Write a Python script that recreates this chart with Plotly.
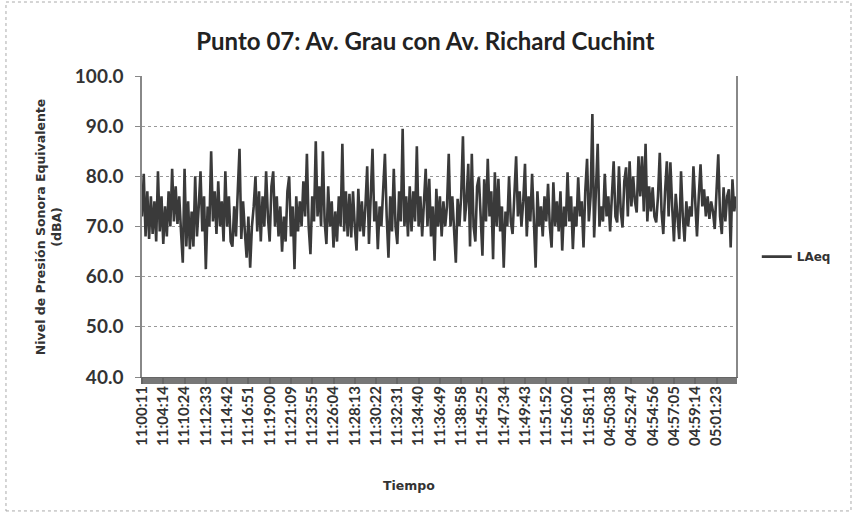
import plotly.graph_objects as go

# LAeq readings (dBA), one value every ~10.75 s
laeq = [
    72, 80.5, 68, 77, 67.5, 76, 68.5, 75, 67, 81, 69, 76, 66.5, 74, 68, 77, 70, 81.5, 71, 78,
    70.5, 76, 69, 62.8, 81.5, 66, 75, 65.5, 73, 66, 80, 68, 74, 81, 69, 76, 61.5, 74, 70, 85,
    71, 77, 68.5, 79, 70, 75, 67, 81, 70, 76, 67, 66, 74, 68, 77, 85.5, 67.5, 75, 69, 63.8,
    72, 61.8, 70, 74, 80, 69, 77, 67, 76, 70, 81, 72, 67, 78, 81, 70, 76, 68, 74, 65,
    72, 67, 77, 80, 68, 74,
    61.5, 76, 69, 75, 70, 79, 72, 84.5, 70, 64.5, 76, 71, 87, 72, 78, 70, 85, 71, 66.5, 78,
    70, 75, 65.8, 73, 67, 76, 70, 86.5, 69, 77, 68, 76.5, 67.8, 77, 70, 65.2, 77.5, 69, 75, 68,
    74, 82, 66.5, 76, 85.5, 71, 75, 65.5, 74, 70, 78, 84.5, 72, 63.8, 76, 69, 81.5, 70, 66.5, 77,
    71, 89.5, 70, 76, 68, 78, 69, 77, 71, 86, 70, 76, 68, 75, 81.5, 70, 79.5, 68, 74, 63.2,
    77.5, 70, 76, 68, 75, 70,
    74, 84.5, 70, 76, 69, 62.8, 75.5, 70, 76, 88, 71, 75, 82.5, 66, 84.5, 70, 67, 78, 79.8, 70,
    64.2, 79.4, 71, 83.5, 72, 77, 63.5, 80.8, 70, 79.5, 69, 74, 61.8, 73, 70, 80, 71, 68.5, 76, 84,
    72, 77, 70, 75, 82.5, 68, 76, 71, 80.5, 70, 61.8, 77, 70, 74, 68, 76, 71, 78.5, 70, 65.8,
    78.8, 70, 75, 69, 77, 65.2, 74, 70, 80.8, 71, 76, 65.5, 74, 70, 79.8, 72, 75, 65.8, 77, 83.5,
    71, 76, 92.4, 67.8, 78,
    86.5, 70, 74, 71, 80.5, 72, 76, 69, 75, 83, 72, 70.8, 82, 73, 69.8, 79, 81.8, 72, 83, 74,
    80, 75, 72.8, 84, 76, 84, 73, 86.5, 71, 78, 73, 77.8, 72, 70.8, 76, 84.7, 73, 68.5, 77, 83,
    72, 82.8, 74, 67, 76.5, 71, 67.5, 81, 72, 67, 75, 70, 74, 72, 82, 75, 68, 76, 82.4, 74,
    77.4, 72, 76, 71.5, 75, 73, 69.5, 77, 84.4, 72, 68.5, 77.8, 71, 76, 77.4, 65.8, 79.4, 73, 76,
]

# category labels shown on the time axis (every 12th reading)
tick_labels = [
    "11:00:11", "11:04:14", "11:10:24", "11:12:33", "11:14:42", "11:16:51", "11:19:00",
    "11:21:09", "11:23:55", "11:26:04", "11:28:13", "11:30:22", "11:32:31", "11:34:40",
    "11:36:49", "11:38:58", "11:45:25", "11:47:34", "11:49:43", "11:51:52", "11:56:02",
    "11:58:11", "04:50:38", "04:52:47", "04:54:56", "04:57:05", "04:59:14", "05:01:23",
]
label_step = 12

x = list(range(len(laeq)))

fig = go.Figure()
fig.add_trace(go.Scatter(x=x, y=laeq, mode="lines", name="LAeq",
                         line=dict(color="#3a3a3a", width=2.6)))

fig.update_layout(
    width=854, height=513,
    margin=dict(l=142, r=118, t=76, b=136),
    paper_bgcolor="white", plot_bgcolor="white",
    title=dict(text="Punto 07: Av. Grau con Av. Richard Cuchint",
               x=0.498, xanchor="center", y=0.918, yanchor="middle",
               font=dict(family="Lato", size=24, color="#222", weight="bold")),
    showlegend=True,
    legend=dict(x=1.035, y=0.40, xanchor="left", yanchor="middle",
                font=dict(family="DejaVu Sans", size=12, color="#333", weight="bold"),
                bgcolor="rgba(0,0,0,0)", itemwidth=30),
)

fig.update_xaxes(
    range=[0, len(laeq) - 1],
    tickmode="array",
    tickvals=x[::label_step],
    ticktext=tick_labels,
    tickangle=-90,
    tickfont=dict(family="Lato", size=15, color="#333", weight="bold"),
    ticks="outside", ticklen=6, tickwidth=1.5, tickcolor="#666",
    ticklabelstandoff=-4,
    minor=dict(tickmode="linear", tick0=0, dtick=1, ticks="outside",
               ticklen=6, tickwidth=1.5, tickcolor="#777"),
    showline=True, linecolor="#666", linewidth=1,
    showgrid=False, zeroline=False,
)

fig.update_yaxes(
    range=[40, 100],
    tickvals=[40, 50, 60, 70, 80, 90, 100],
    tickformat=".1f",
    tickfont=dict(family="Lato", size=19, color="#333", weight="bold"),
    ticks="outside", ticklen=5, tickcolor="#888",
    ticklabelstandoff=8,
    showline=True, linecolor="#888", linewidth=1.5, mirror=True,
    showgrid=True, gridcolor="#999", griddash="dot", gridwidth=1,
    zeroline=False,
)

# axis titles placed where the scan has them
fig.add_annotation(text="Nivel de Presión Sonora Equivalente<br>(dBA)",
                   xref="paper", yref="paper", x=-0.157, y=0.50,
                   xanchor="center", yanchor="middle", textangle=-90, showarrow=False,
                   font=dict(family="DejaVu Sans", size=12.5, color="#333", weight="bold"))
fig.add_annotation(text="Tiempo", xref="paper", yref="paper", x=0.45, y=-0.36,
                   xanchor="center", yanchor="middle", showarrow=False,
                   font=dict(family="DejaVu Sans", size=12.5, color="#333", weight="bold"))

# dotted chart-area border
fig.add_shape(type="rect", xref="paper", yref="paper",
              x0=-0.229, x1=1.1936, y0=-0.445, y1=1.2458,
              line=dict(color="#aaa", width=1, dash="dot"))

# drop the default page margin so the figure sits at the window origin
fig.write_html("out.html", config={"displayModeBar": False},
               post_script="document.body.style.margin='0';document.body.style.overflow='hidden';")
